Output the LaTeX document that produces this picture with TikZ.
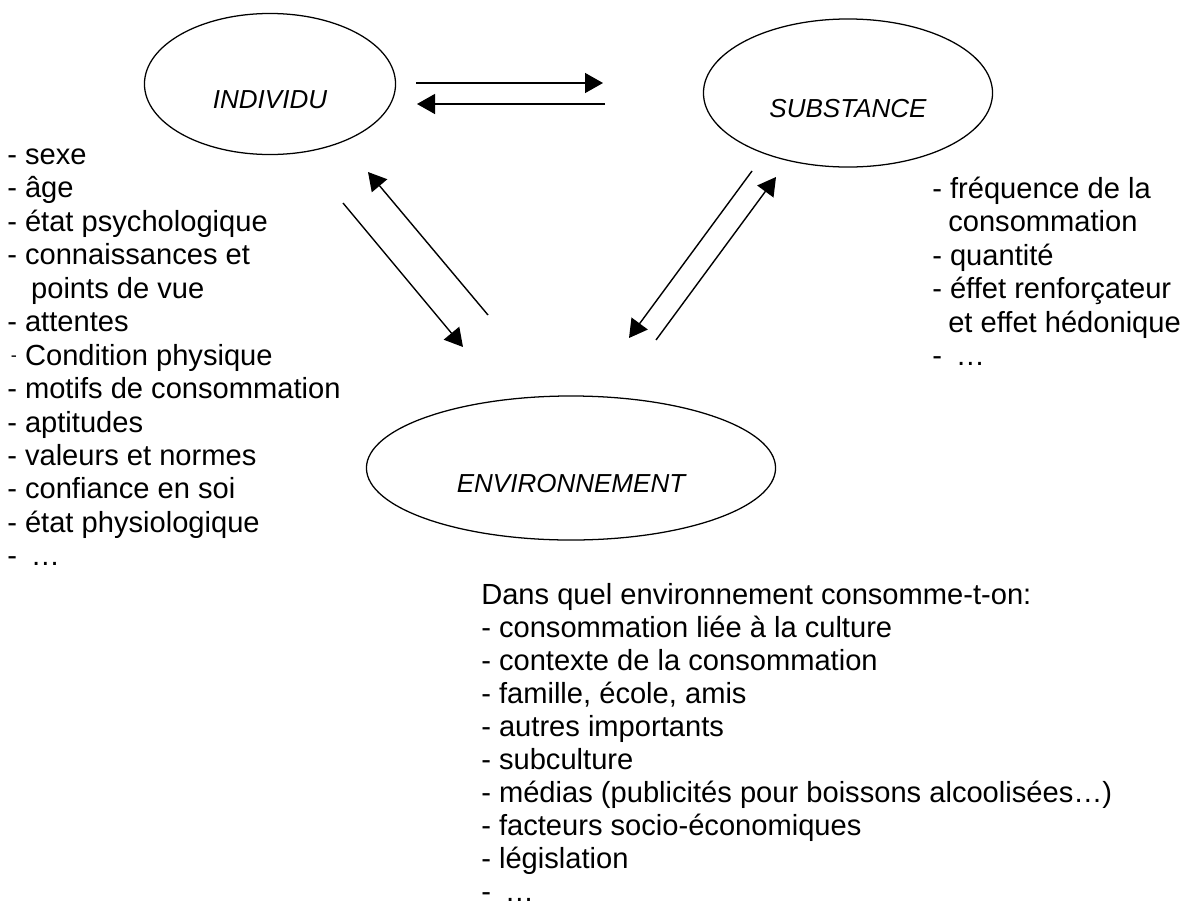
\documentclass[tikz,border=0pt]{standalone}
\usepackage{fontspec}
\setmainfont{Liberation Sans}
\usetikzlibrary{arrows.meta,shapes.geometric}
\tikzset{
  link/.style={-{Triangle[length=4.5mm, width=5mm]}, line width=1pt},
  oval/.style={ellipse, draw, line width=0.9pt, inner sep=0pt, text height=34.5pt, text depth=0pt,
    font=\fontsize{18.5}{22}\selectfont\itshape},
  lst/.style={anchor=north west, inner sep=0pt, align=left, font=\fontsize{20.7}{23.8}\selectfont},
}

\begin{document}
\begin{tikzpicture}[x=0.025cm, y=-0.025cm]
  \useasboundingbox (0,0) rectangle (1183,908);
  % the three poles
  \node[oval, minimum width=6.275cm, minimum height=3.525cm] (ind) at (270,84) {INDIVIDU};
  \node[oval, minimum width=7.225cm, minimum height=3.7cm] (sub) at (848,93) {SUBSTANCE};
  \node[oval, minimum width=10.225cm, minimum height=3.6cm] (env) at (571,468) {ENVIRONNEMENT};
  % arrow ends
  \coordinate (IS1) at (416,83);  \coordinate (IS2) at (603,83);
  \coordinate (SI1) at (605,104); \coordinate (SI2) at (417,104);
  \coordinate (IE1) at (343,203); \coordinate (IE2) at (463,347);
  \coordinate (EI1) at (488,315); \coordinate (EI2) at (368,172);
  \coordinate (SE1) at (752,171); \coordinate (SE2) at (629,338);
  \coordinate (ES1) at (656,340); \coordinate (ES2) at (776,177);
  \draw[link] (IS1) -- (IS2);
  \draw[link] (SI1) -- (SI2);
  \draw[link] (IE1) -- (IE2);
  \draw[link] (EI1) -- (EI2);
  \draw[link] (SE1) -- (SE2);
  \draw[link] (ES1) -- (ES2);
  % factor lists
  \node[lst] (indlist) at (7,140.6) {\strut- sexe\\
    - âge\\
    - état psychologique\\
    - connaissances et\\
    \hspace*{0.82em}points de vue\\
    - attentes\\
    \makebox[0.611em][l]{\hspace{0.12em}\raisebox{0.12em}{\fontsize{13}{13}\selectfont -}}Condition physique\\
    - motifs de consommation\\
    - aptitudes\\
    - valeurs et normes\\
    - confiance en soi\\
    - état physiologique\\
    -\hspace{0.48em}…};
  \node[lst] (sublist) at (932,174.6) {\strut- fréquence de la\\
    \hspace*{0.55em}consommation\\
    - quantité\\
    - éffet renforçateur\\
    \hspace*{0.55em}et effet hédonique\\
    -\hspace{0.48em}…};
  \node[lst, font=\fontsize{20.7}{23.5}\selectfont] (envlist) at (481,580.6) {\strut Dans quel environnement consomme-t-on:\\
    - consommation liée à la culture\\
    - contexte de la consommation\\
    - famille, école, amis\\
    - autres importants\\
    - subculture\\
    - médias (publicités pour boissons alcoolisées…)\\
    - facteurs socio-économiques\\
    - législation\\
    -\hspace{0.48em}…};
\end{tikzpicture}
\end{document}
